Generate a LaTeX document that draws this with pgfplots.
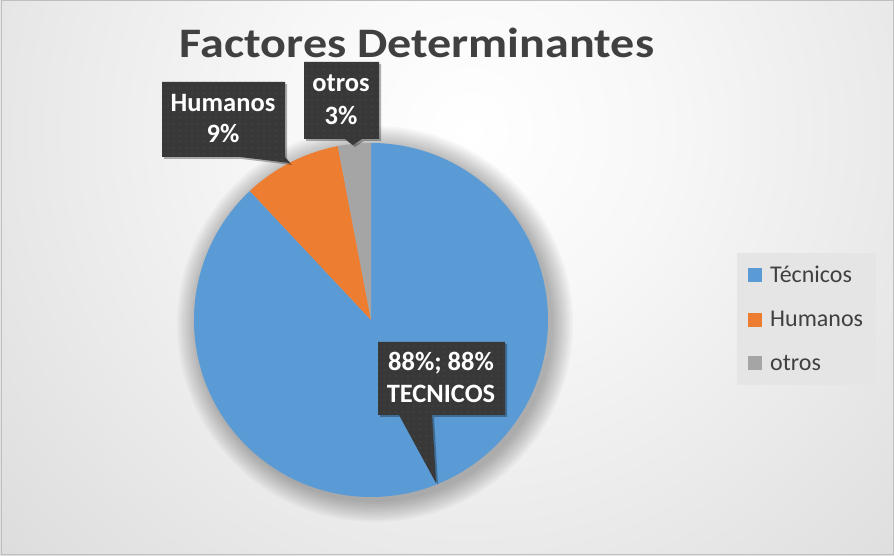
\documentclass[border=0pt]{standalone}
\usepackage{pgfplots}
\pgfplotsset{compat=1.18}
\usepackage{pgfplotstable}
\usepackage{fontspec}
\setmainfont{Carlito}
\usetikzlibrary{patterns.meta}

\definecolor{cTec}{HTML}{5B9BD5}
\definecolor{cHum}{HTML}{ED7D31}
\definecolor{cOtr}{HTML}{A5A5A5}
\definecolor{ctext}{HTML}{404040}
\definecolor{cbox}{HTML}{383838}
\definecolor{cdot}{HTML}{555555}

\pgfdeclareradialshading{bgshade}{\pgfpoint{0bp}{0bp}}{color(0bp)=(white); color(8bp)=(black!3); color(17bp)=(black!8); color(29bp)=(black!15); color(37.5bp)=(black!19); color(50bp)=(black!22)}

\pgfplotstableread{
label value
Tecnicos 88
Humanos 9
otros 3
}\pietable

\pgfplotstablegetelem{0}{value}\of\pietable \pgfmathsetmacro\vA{\pgfplotsretval}
\pgfplotstablegetelem{1}{value}\of\pietable \pgfmathsetmacro\vB{\pgfplotsretval}
\pgfplotstablegetelem{2}{value}\of\pietable \pgfmathsetmacro\vC{\pgfplotsretval}
\pgfmathsetmacro\aA{90}
\pgfmathsetmacro\aB{\aA-3.6*\vA}
\pgfmathsetmacro\aC{\aB-3.6*\vB}
\pgfmathsetmacro\aD{\aC-3.6*\vC}
\def\R{177}

\begin{document}
\begin{tikzpicture}[x=1pt,y=1pt]
% background
\begin{scope}
\clip (0,0) rectangle (894,556);
\shade[shading=bgshade] (470-600,426-600) rectangle (470+600,426+600);
\end{scope}
\draw[black!25, line width=1pt] (1,1) rectangle (893,555);
% soft pie shadow
\foreach \r in {178,180,...,198} {\fill[black, opacity=0.028] (375,232) circle (\r);}

\begin{axis}[at={(0,0)}, anchor=south west,
  x=1pt, y=1pt, disabledatascaling,
  xmin=-371, xmax=523, ymin=-236, ymax=320,
  hide axis, clip=false,
  legend style={at={(axis cs:366,67)}, anchor=north west, fill=black!10, draw=none,
    font=\fontsize{24}{28}\selectfont, text=ctext, row sep=23pt, column sep=6pt,
    inner xsep=11pt, inner ysep=11pt, cells={anchor=west}},
  legend image code/.code={\fill[#1] (0pt,-7pt) rectangle (14pt,7pt);},
]
\fill[cTec] (axis cs:0,0) -- (axis cs:{\R*cos(\aA)},{\R*sin(\aA)}) arc[start angle=\aA, end angle=\aB, radius=\R pt] -- cycle;
\fill[cHum] (axis cs:0,0) -- (axis cs:{\R*cos(\aB)},{\R*sin(\aB)}) arc[start angle=\aB, end angle=\aC, radius=\R pt] -- cycle;
\fill[cOtr] (axis cs:0,0) -- (axis cs:{\R*cos(\aC)},{\R*sin(\aC)}) arc[start angle=\aC, end angle=\aD, radius=\R pt] -- cycle;
\addlegendimage{fill=cTec,draw=none}
\addlegendentry{Técnicos}
\addlegendimage{fill=cHum,draw=none}
\addlegendentry{Humanos}
\addlegendimage{fill=cOtr,draw=none}
\addlegendentry{otros}
\end{axis}

% title
\node[anchor=base, font=\bfseries\fontsize{42}{50}\selectfont, text=ctext, xscale=1.145] at (417,498) {Factores Determinantes};

% callouts
\def\callout#1{%
  \fill[black, opacity=0.3, shift={(2,-2)}] #1;
  \fill[cbox] #1;
  \fill[pattern={Dots[distance=6pt, radius=0.7pt]}, pattern color=cdot] #1;
}
\callout{(378,214) -- (505,214) -- (505,141) -- (432,141) -- (436,73) -- (399,141) -- (378,141) -- cycle}
\callout{(162,474) -- (285,474) -- (285,399) -- (290,393) -- (240,399) -- (162,399) -- cycle}
\callout{(304,494) -- (379,494) -- (379,417) -- (362,417) -- (353,411) -- (345,417) -- (304,417) -- cycle}

\tikzset{lbl/.style={anchor=base, text=white, font=\bfseries\fontsize{26.5}{30}\selectfont, inner sep=0pt}}
\node[lbl] at (441,185) {88\%; 88\%};
\node[lbl] at (441,153) {TECNICOS};
\node[lbl] at (223,444) {Humanos};
\node[lbl] at (223,413) {9\%};
\node[lbl] at (341,464) {otros};
\node[lbl] at (341,431) {3\%};
\end{tikzpicture}
\end{document}
